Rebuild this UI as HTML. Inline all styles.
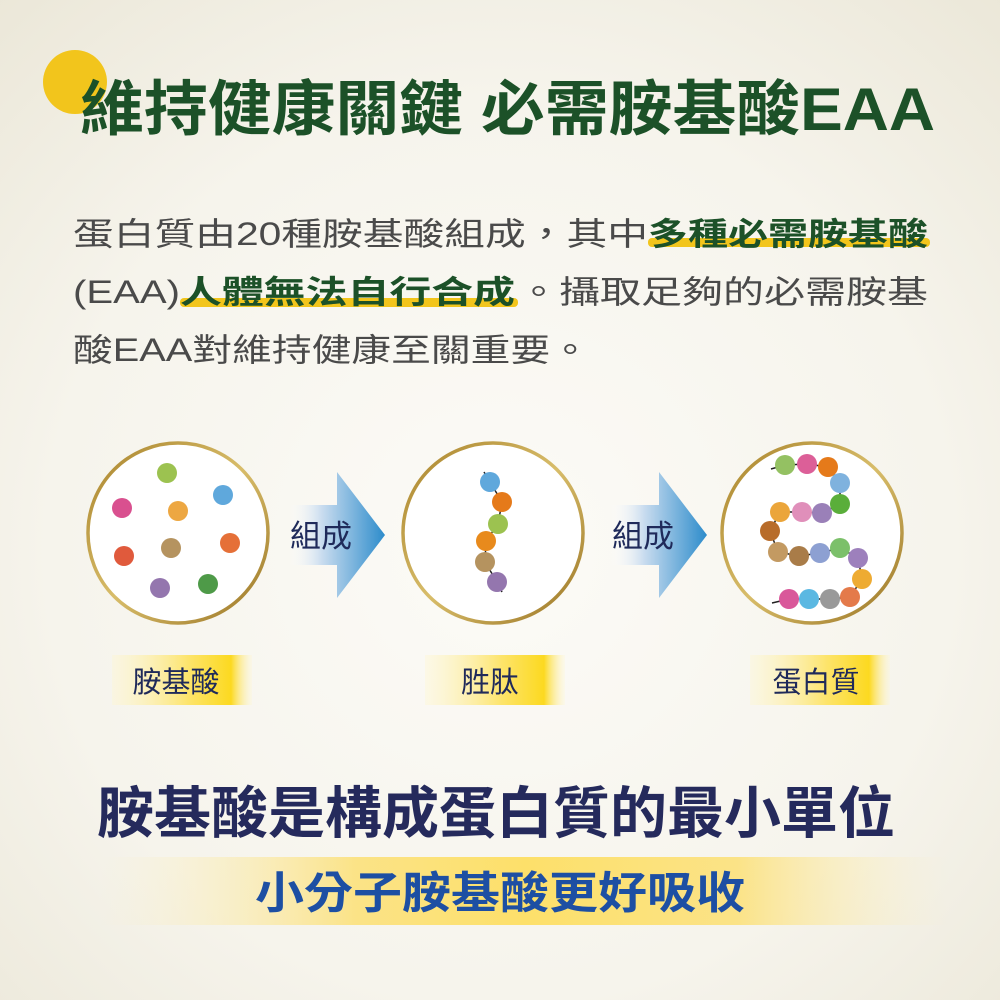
<!DOCTYPE html>
<html><head><meta charset="utf-8"><style>
html,body{margin:0;padding:0;width:1000px;height:1000px;overflow:hidden}
svg{display:block}
text{font-family:"Liberation Sans","Noto Sans CJK TC",sans-serif}
</style></head><body>
<svg width="1000" height="1000" viewBox="0 0 1000 1000" xmlns="http://www.w3.org/2000/svg">
<defs>
<radialGradient id="bg" cx="0.5" cy="0.55" r="0.75">
<stop offset="0" stop-color="#fcfbf7"/><stop offset="0.6" stop-color="#f6f4ec"/><stop offset="1" stop-color="#ebe7d8"/>
</radialGradient>
<linearGradient id="arr" x1="0" x2="1" y1="0" y2="0">
<stop offset="0" stop-color="#ffffff" stop-opacity="0"/><stop offset="0.35" stop-color="#c9dcef"/><stop offset="1" stop-color="#2d8ccb"/>
</linearGradient>
<linearGradient id="lab" x1="0" x2="1">
<stop offset="0" stop-color="#fff6c8" stop-opacity="0.3"/><stop offset="0.55" stop-color="#fde46a"/><stop offset="0.85" stop-color="#fcd920"/><stop offset="1" stop-color="#fff6c8" stop-opacity="0.2"/>
</linearGradient>
<linearGradient id="band" x1="0" x2="1">
<stop offset="0" stop-color="#faf0c8" stop-opacity="0"/><stop offset="0.3" stop-color="#fbe387"/><stop offset="0.5" stop-color="#fde06a"/><stop offset="0.75" stop-color="#fbe387"/><stop offset="1" stop-color="#faf0c8" stop-opacity="0"/>
</linearGradient>
<linearGradient id="gold" x1="0" y1="0" x2="1" y2="1">
<stop offset="0" stop-color="#a8822a"/><stop offset="0.5" stop-color="#d8bd6a"/><stop offset="1" stop-color="#9a7424"/>
</linearGradient>
</defs>
<rect width="1000" height="1000" fill="url(#bg)"/>
<circle cx="75" cy="82" r="32" fill="#f2c51c"/>
<text x="80" y="130" font-size="60" font-weight="bold" fill="#1c5128" textLength="855" lengthAdjust="spacingAndGlyphs">維持健康關鍵 必需胺基酸EAA</text>

<rect x="648" y="238" width="282" height="9" rx="4" fill="#f2c51c"/>
<rect x="180" y="298" width="338" height="9" rx="4" fill="#f2c51c"/>
<g font-size="32" fill="#4a4a4a">
<text x="73" y="245" textLength="575" lengthAdjust="spacingAndGlyphs">蛋白質由20種胺基酸組成，其中</text>
<text x="648" y="245" font-weight="bold" fill="#1c5128" textLength="280" lengthAdjust="spacingAndGlyphs">多種必需胺基酸</text>
<text x="73" y="303" textLength="107" lengthAdjust="spacingAndGlyphs">(EAA)</text>
<text x="180" y="303" font-weight="bold" fill="#1c5128" textLength="335" lengthAdjust="spacingAndGlyphs">人體無法自行合成</text>
<text x="518" y="303" textLength="410" lengthAdjust="spacingAndGlyphs">。攝取足夠的必需胺基</text>
<text x="73" y="361" textLength="517" lengthAdjust="spacingAndGlyphs">酸EAA對維持健康至關重要。</text>
</g>

<g fill="#fff" stroke="url(#gold)" stroke-width="3.5">
<circle cx="178" cy="533" r="90"/><circle cx="493" cy="533" r="90"/><circle cx="812" cy="533" r="90"/>
</g>
<g>
<circle cx="167" cy="473" r="10" fill="#9cc250"/><circle cx="223" cy="495" r="10" fill="#5fa8dc"/>
<circle cx="122" cy="508" r="10" fill="#d9508f"/><circle cx="178" cy="511" r="10" fill="#eda742"/>
<circle cx="124" cy="556" r="10" fill="#e05a3c"/><circle cx="171" cy="548" r="10" fill="#b5935f"/>
<circle cx="230" cy="543" r="10" fill="#e57038"/><circle cx="160" cy="588" r="10" fill="#9476ae"/>
<circle cx="208" cy="584" r="10" fill="#4e9a48"/>
</g>
<polyline points="484,472 490,482 502,502 498,524 486,541 485,562 497,582 502,592" fill="none" stroke="#222" stroke-width="1.5"/>
<g>
<circle cx="490" cy="482" r="10" fill="#5fa8dc"/><circle cx="502" cy="502" r="10" fill="#e57a1a"/>
<circle cx="498" cy="524" r="10" fill="#9cc250"/><circle cx="486" cy="541" r="10" fill="#e88a1c"/>
<circle cx="485" cy="562" r="10" fill="#b5935f"/><circle cx="497" cy="582" r="10" fill="#9476ae"/>
</g>
<polyline points="771,469 785,465 807,464 828,467 840,483 840,504 822,513 802,512 780,512 770,531 778,552 799,556 820,553 840,548 858,558 862,579 850,597 830,599 809,599 789,599 772,603" fill="none" stroke="#222" stroke-width="1.5"/>
<g>
<circle cx="785" cy="465" r="10" fill="#94c162"/><circle cx="807" cy="464" r="10" fill="#dc5f98"/>
<circle cx="828" cy="467" r="10" fill="#e57a1a"/><circle cx="840" cy="483" r="10" fill="#7fb2de"/>
<circle cx="840" cy="504" r="10" fill="#5aae3a"/><circle cx="822" cy="513" r="10" fill="#9a80b8"/>
<circle cx="802" cy="512" r="10" fill="#e08fba"/><circle cx="780" cy="512" r="10" fill="#eba53a"/>
<circle cx="770" cy="531" r="10" fill="#b86c2a"/><circle cx="778" cy="552" r="10" fill="#c39a62"/>
<circle cx="799" cy="556" r="10" fill="#a97c48"/><circle cx="820" cy="553" r="10" fill="#8da0d2"/>
<circle cx="840" cy="548" r="10" fill="#7cc06a"/><circle cx="858" cy="558" r="10" fill="#9d80bc"/>
<circle cx="862" cy="579" r="10" fill="#eeab32"/><circle cx="850" cy="597" r="10" fill="#e47a4a"/>
<circle cx="830" cy="599" r="10" fill="#999"/><circle cx="809" cy="599" r="10" fill="#5bb8e2"/>
<circle cx="789" cy="599" r="10" fill="#d9589a"/>
</g>

<polygon points="288,505 337,505 337,472 385,535 337,598 337,565 288,565" fill="url(#arr)"/>
<polygon points="610,505 659,505 659,472 707,535 659,598 659,565 610,565" fill="url(#arr)"/>
<g font-size="31" fill="#1f2a5a">
<text x="290" y="547">組成</text><text x="612" y="547">組成</text>
</g>

<rect x="112" y="655" width="140" height="50" fill="url(#lab)"/>
<rect x="425" y="655" width="140" height="50" fill="url(#lab)"/>
<rect x="750" y="655" width="140" height="50" fill="url(#lab)"/>
<g font-size="29" fill="#1f2a5a" text-anchor="middle">
<text x="176" y="692">胺基酸</text><text x="490" y="692">胜肽</text><text x="816" y="692">蛋白質</text>
</g>

<text x="97" y="833" font-size="56" font-weight="bold" fill="#252a5c" textLength="798" lengthAdjust="spacingAndGlyphs">胺基酸是構成蛋白質的最小單位</text>
<rect x="100" y="857" width="850" height="68" fill="url(#band)"/>
<text x="255" y="908" font-size="44" font-weight="bold" fill="#1d4fa3" textLength="490" lengthAdjust="spacingAndGlyphs">小分子胺基酸更好吸收</text>
</svg>
</body></html>
